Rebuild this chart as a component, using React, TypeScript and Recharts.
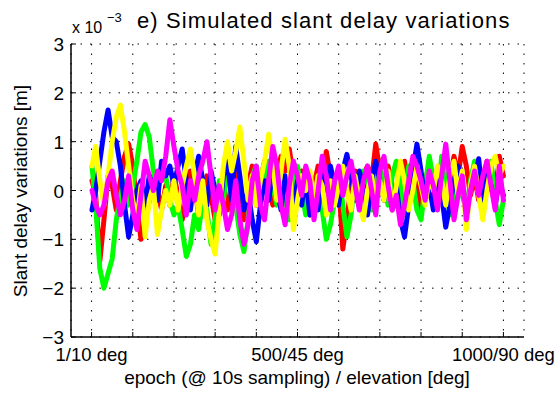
import React from 'react';
import { LineChart, Line, XAxis, YAxis, CartesianGrid } from 'recharts';

// Values in units of 1e-3 m, sampled every 10 epochs (epoch 1, 10, 20, ... 1000)
const red = [
  0.2, -0.1, -1.45, -0.6, 0.3, 0.1, -0.4, 0.2, 0.7, 0.95,
  0.5, -0.3, -1.0, -0.7, -0.2, 0.3, 0.0, -0.4, 0.1, -0.3,
  0.3, -0.1, -0.6, -0.2, 0.4, 0.1, -0.5, -0.2, 0.3, -0.1,
  -0.6, -0.3, 0.2, -0.4, 0.0, 0.4, -0.2, -0.6, 0.1, 0.5,
  -0.3, 0.2, 0.6, 0.2, -0.3, 0.3, 0.7, 0.4, 0.85, 0.3,
  -0.2, 0.4, 0.0, -0.5, 0.1, 0.5, 0.2, 0.8, 0.3, -0.2,
  0.2, -1.2, -0.6, 0.1, 0.4, -0.2, 0.3, 0.5, 0.2, 0.95,
  0.4, 0.0, 0.5, 0.1, -0.3, 0.3, 0.6, -0.2, 0.4, 0.1,
  -0.4, 0.2, 0.5, -0.2, 0.3, 0.1, -0.3, 0.2, 0.7, 0.3,
  0.9, 0.5, -0.1, 0.3, -0.2, 0.1, 0.6, 0.2, 0.1, 0.7,
  0.3,
];
const green = [
  0.5, -0.3, -1.6, -2.0, -1.7, -1.4, -0.6, -0.1, 0.2, -0.3,
  0.1, 0.6, 1.2, 1.35, 1.1, 0.4, 0.0, 0.5, 0.3, -0.2,
  -0.5, -0.3, -0.8, -1.35, -1.1, -0.5, -0.8, -0.2, -0.4, -1.1,
  -0.6, 0.2, -0.2, 0.5, 0.2, -0.3, -0.9, -1.25, -0.6, 0.3,
  0.5, -0.2, 0.3, 0.6, 0.1, -0.3, 0.4, -0.2, -0.6, 0.2,
  0.5, 0.0, -0.5, 0.1, -0.3, 0.3, -0.4, -1.0, -0.7, -0.2,
  0.4, -0.3, -0.95, -0.5, 0.3, -0.1, 0.4, 0.0, -0.4, 0.2,
  0.5, 0.1, -0.3, 0.3, 0.6, 0.1, -0.5, 0.5, 0.2, -0.4,
  -0.6, 0.1, 0.7, 0.2, -0.3, 0.7, 0.2, -0.5, -0.2, 0.3,
  -0.1, -0.4, 0.2, 0.6, 0.0, -0.5, 0.1, 0.6, -0.2, -0.7,
  -0.2,
];
const blue = [
  -0.4, 0.0, 0.6, 1.2, 1.65, 1.1, 1.0, 0.5, -0.3, -0.95,
  -0.5, 0.0, 0.2, -0.3, 0.3, 0.1, -0.2, 0.6, 0.3, 0.5,
  0.1, 0.5, 0.85, 0.2, -0.4, 0.3, 0.7, 0.2, -0.3, 0.4,
  0.0, -0.5, 0.3, 0.6, -0.2, 0.9, 0.3, -0.4, 0.0, -0.6,
  -1.05, -0.3, 0.2, -0.2, 0.4, 0.1, -0.4, 0.3, -0.1, -0.4,
  0.2, -0.3, 0.3, -0.5, 0.1, -0.4, 0.3, 0.0, 0.5, 0.1,
  -0.3, 0.4, 0.74, 0.3, -0.2, 0.4, 0.1, -0.5, 0.2, 0.6,
  0.2, -0.2, 0.3, -0.4, 0.1, -0.6, -0.95, -0.3, 0.4, 0.95,
  0.4, -0.2, 0.1, -0.4, 0.3, -0.1, -0.75, -0.3, 0.2, 0.5,
  0.0, -0.4, 0.1, 0.2, 0.65, -0.2, 0.4, 0.1, -0.3, 0.2,
  -0.1,
];
const yellow = [
  0.5, 0.9, 0.2, -0.3, 0.3, 1.0, 1.5, 1.75, 1.2, 0.5,
  -0.2, -0.6, 0.1, -0.95, -0.2, 0.1, -0.9, -0.4, 0.0, -0.3,
  0.2, -0.4, 0.1, 0.5, 0.85, 0.3, -0.5, 0.2, -0.6, -1.0,
  -1.3, -0.4, 0.5, 1.0, 0.4, 0.8, 1.3, 0.6, -0.2, 0.3,
  -0.3, 0.2, 0.6, 1.15, 0.5, -0.2, 0.4, 1.05, 0.5, -0.8,
  -0.2, 0.3, 0.0, 0.4, -0.2, 0.3, 0.1, -0.5, 0.2, -0.3,
  0.1, 0.5, 0.0, -0.4, 0.3, -0.2, -0.6, 0.0, 0.3, -0.3,
  0.2, -0.2, 0.4, -0.4, 0.1, 0.6, 0.2, -0.4, 0.0, 0.5,
  0.1, -0.3, 0.3, 0.0, 0.5, 0.2, -0.3, 0.3, 0.6, -0.1,
  0.4, -0.8, 0.1, 0.5, -0.1, -0.6, 0.0, 0.5, 0.7, 0.3,
  0.5,
];
const magenta = [
  0.0, -0.3, -0.5, -0.3, 0.2, 0.4, -0.1, -0.5, -0.2, 0.3,
  -0.4, -0.8, -0.1, 0.6, 0.3, 0.0, 0.4, 0.2, 0.7, 1.45,
  0.9, 0.4, 0.1, -0.5, 0.2, -0.2, 0.3, 0.6, 1.0, 0.3,
  -0.4, 0.1, -0.3, -0.8, -0.5, 0.2, -0.6, -1.1, -0.7, 0.2,
  0.5, -0.3, -0.6, 0.2, 0.9, 0.5, -0.3, -0.7, 0.1, 0.6,
  0.3, -0.1, 0.5, 0.2, -0.6, 0.0, 0.7, 0.3, -0.4, 0.2,
  0.5, -0.1, 0.3, 0.6, 0.1, -0.4, 0.2, 0.5, 0.0, -0.5,
  0.4, 0.7, 0.1, -0.4, -0.1, -0.7, -0.3, 0.2, 0.7, 0.5,
  0.2, -0.2, 0.4, 0.1, -0.4, 0.3, 0.95, 0.2, -0.6, -0.1,
  0.3, -0.6, 0.0, 0.4, -0.1, 0.3, 0.6, 0.1, -0.4, 0.5,
  -0.2,
];

const epochs = red.map((_, i) => (i === 0 ? 1 : i * 10));
const xTicks = [0, 100, 200, 300, 400, 500, 600, 700, 800, 900, 1000];
const xTickLabels: Record<number, string> = { 0: '1/10 deg', 500: '500/45 deg', 1000: '1000/90 deg' };
const yTicks = [-3, -2, -1, 0, 1, 2, 3];
const yTickLabels = ['\u22123', '\u22122', '\u22121', '0', '1', '2', '3'];

const data = epochs.map((e, i) => ({
  epoch: e,
  red: red[i],
  green: green[i],
  blue: blue[i],
  yellow: yellow[i],
  magenta: magenta[i],
}));

const FONT = '"Liberation Sans", Arial, Helvetica, sans-serif';

const BottomTick = (props: any) => {
  const { x, y, payload } = props;
  const label = xTickLabels[payload.value] ?? '';
  return (
    <g>
      <line x1={x} y1={y} x2={x} y2={y - 5} stroke="#000" strokeWidth={1} />
      {label && (
        <text x={x} y={y + 24} textAnchor="middle" fontSize={18.5} fontFamily={FONT} fill="#000">
          {label}
        </text>
      )}
    </g>
  );
};
const TopTick = (props: any) => {
  const { x, y } = props;
  return <line x1={x} y1={y} x2={x} y2={y + 5} stroke="#000" strokeWidth={1} />;
};
const LeftTick = (props: any) => {
  const { x, y, payload } = props;
  const idx = yTicks.indexOf(payload.value);
  return (
    <g>
      <line x1={x} y1={y} x2={x + 5} y2={y} stroke="#000" strokeWidth={1} />
      <text x={x - 7} y={y + 7} textAnchor="end" fontSize={19} fontFamily={FONT} fill="#000">
        {yTickLabels[idx]}
      </text>
    </g>
  );
};
const RightTick = (props: any) => {
  const { x, y } = props;
  return <line x1={x} y1={y} x2={x - 5} y2={y} stroke="#000" strokeWidth={1} />;
};

export default function App() {
  const W = 556;
  const H = 393;
  return (
    <div style={{ position: 'absolute', left: 0, top: 0, width: W, height: H, background: '#fff', overflow: 'hidden' }}>
      <LineChart
        width={W}
        height={H}
        data={data}
        margin={{ top: 44, right: 32, left: 31, bottom: 26 }}
      >
        <CartesianGrid stroke="#000" strokeDasharray="1.5 8" strokeWidth={1} />
        <XAxis
          dataKey="epoch"
          type="number"
          domain={[-50, 1050]}
          ticks={xTicks}
          interval={0}
          height={30}
          tickSize={0}
          tickMargin={0}
          tickLine={false}
          tick={<BottomTick />}
          axisLine={{ stroke: '#000', strokeWidth: 1.5 }}
        />
        <XAxis
          xAxisId="top"
          orientation="top"
          dataKey="epoch"
          type="number"
          domain={[-50, 1050]}
          ticks={xTicks}
          interval={0}
          height={0}
          tickSize={0}
          tickMargin={0}
          tickLine={false}
          tick={<TopTick />}
          axisLine={{ stroke: '#000', strokeWidth: 1.5 }}
        />
        <YAxis
          type="number"
          domain={[-3, 3]}
          ticks={yTicks}
          interval={0}
          width={40}
          tickSize={0}
          tickMargin={0}
          tickLine={false}
          tick={<LeftTick />}
          axisLine={{ stroke: '#000', strokeWidth: 1.5 }}
        />
        <YAxis
          yAxisId="right"
          orientation="right"
          type="number"
          domain={[-3, 3]}
          ticks={yTicks}
          interval={0}
          width={0}
          tickSize={0}
          tickMargin={0}
          tickLine={false}
          tick={<RightTick />}
          axisLine={{ stroke: '#000', strokeWidth: 1.5 }}
        />
        <Line dataKey="red" stroke="#ff0000" strokeWidth={5} dot={false} isAnimationActive={false} strokeLinejoin="round" strokeLinecap="round" />
        <Line dataKey="green" stroke="#00ff00" strokeWidth={5} dot={false} isAnimationActive={false} strokeLinejoin="round" strokeLinecap="round" />
        <Line dataKey="blue" stroke="#0000ff" strokeWidth={5} dot={false} isAnimationActive={false} strokeLinejoin="round" strokeLinecap="round" />
        <Line dataKey="yellow" stroke="#ffff00" strokeWidth={5} dot={false} isAnimationActive={false} strokeLinejoin="round" strokeLinecap="round" />
        <Line dataKey="magenta" stroke="#ff00ff" strokeWidth={5} dot={false} isAnimationActive={false} strokeLinejoin="round" strokeLinecap="round" />
      </LineChart>
      <svg
        width={W}
        height={H}
        style={{ position: 'absolute', left: 0, top: 0, pointerEvents: 'none' }}
        fontFamily={FONT}
      >
        <text x={72} y={33} fontSize={16} fill="#000">x 10</text>
        <text x={107} y={22} fontSize={13} fill="#000">{'\u22123'}</text>
        <text x={137} y={28} fontSize={22} letterSpacing={1.1} fill="#000">e) Simulated slant delay variations</text>
        <text x={297} y={384} fontSize={19} textAnchor="middle" fill="#000">
          epoch (@ 10s sampling) / elevation [deg]
        </text>
        <text x={27} y={191} fontSize={19} textAnchor="middle" fill="#000" transform="rotate(-90 27 191)">
          Slant delay variations [m]
        </text>
      </svg>
    </div>
  );
}
